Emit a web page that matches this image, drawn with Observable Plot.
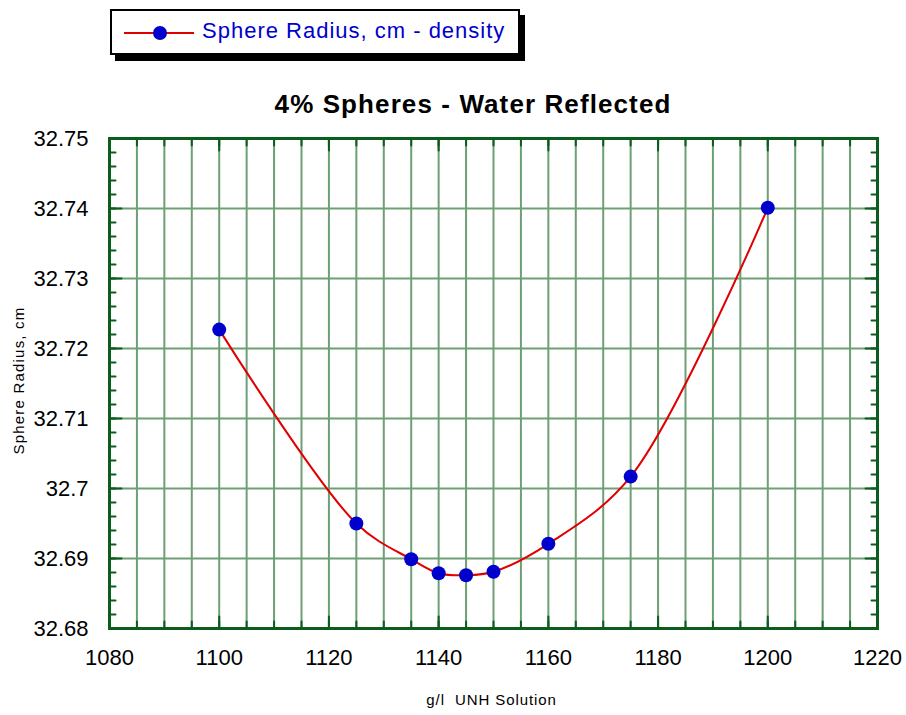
<!DOCTYPE html>
<html>
<head>
<meta charset="utf-8">
<script src="https://cdn.jsdelivr.net/npm/d3@7"></script>
<script src="https://cdn.jsdelivr.net/npm/@observablehq/plot@0.6"></script>
<style>
  body { margin: 0; background: #fff; font-family: "Liberation Sans", Arial, sans-serif; }
  #wrap { position: relative; width: 906px; height: 715px; }
  #legend { position: absolute; left: 110px; top: 9px; width: 406px; height: 42px;
            border: 2px solid #000; background: #fff; box-shadow: 5px 6px 0 #000; z-index: 2; }
  #legend svg { position: absolute; left: 12px; top: 12px; }
  #legend span { position: absolute; left: 90px; top: 7px; font-size: 22px; letter-spacing: 1px; color: #0000cc; white-space: nowrap; }
  #title { position: absolute; left: 73px; width: 800px; top: 91px; line-height: 26px; text-align: center;
           font-size: 26px; letter-spacing: 1.1px; font-weight: bold; color: #000; z-index: 2; }
  #chart { position: absolute; left: 0; top: 0; }
</style>
</head>
<body>
<div id="wrap">
  <div id="legend">
    <svg width="74" height="20"><line x1="0" y1="10" x2="70" y2="10" stroke="#e00000" stroke-width="2"/><circle cx="36" cy="10" r="7" fill="#0000cc"/></svg>
    <span>Sphere Radius, cm - density</span>
  </div>
  <div id="title">4% Spheres - Water Reflected</div>
  <div id="chart"></div>
</div>
<script>
// Data
const densities = [1100, 1125, 1135, 1140, 1145, 1150, 1160, 1175, 1200];
const radii = [32.7227, 32.6950, 32.6899, 32.6879, 32.6876, 32.6881, 32.6921, 32.7017, 32.7401];
const xTickLabels = [1080, 1100, 1120, 1140, 1160, 1180, 1200, 1220];
const yTickLabels = [32.68, 32.69, 32.70, 32.71, 32.72, 32.73, 32.74, 32.75];
const xGrid = d3.range(1080, 1221, 5);
const yMinor = d3.range(0, 36).map(i => 32.68 + i * 0.002);
const xLabel = "g/l  UNH Solution";
const yLabel = "Sphere Radius, cm";

const data = densities.map((x, i) => ({x, y: radii[i]}));
const tickShape = {draw(ctx, l) { ctx.moveTo(0, 0); ctx.lineTo(0, -l); }};
const frameGreen = "#0b5d1e";
const gridGreen = "#6e9f75";

function ticks(values, channel, anchor, rotate, length) {
  return Plot.vector(values, {
    [channel]: d => d, frameAnchor: anchor, rotate, length, anchor: "start",
    shape: tickShape, stroke: frameGreen, strokeWidth: 2
  });
}

const chart = Plot.plot({
  width: 906, height: 715,
  marginLeft: 109, marginRight: 29, marginTop: 138, marginBottom: 87,
  style: {fontFamily: "'Liberation Sans', Arial, sans-serif", background: "white", color: "black"},
  x: {domain: [1080, 1220]},
  y: {domain: [32.68, 32.75]},
  marks: [
    Plot.ruleX(xGrid, {stroke: gridGreen, strokeWidth: 2}),
    Plot.ruleY(yTickLabels, {stroke: gridGreen, strokeWidth: 2}),
    ticks(xGrid, "x", "bottom", 0, 7),
    ticks(xTickLabels, "x", "bottom", 0, 12),
    ticks(xGrid, "x", "top", 180, 7),
    ticks(xTickLabels, "x", "top", 180, 12),
    ticks(yMinor, "y", "left", 90, 6),
    ticks(yTickLabels, "y", "left", 90, 12),
    ticks(yMinor, "y", "right", -90, 6),
    ticks(yTickLabels, "y", "right", -90, 12),
    Plot.frame({stroke: frameGreen, strokeWidth: 3}),
    Plot.axisX(xTickLabels, {tickSize: 0, tickPadding: 21, fontSize: 22, tickFormat: d => String(d), label: null}),
    Plot.axisY(yTickLabels, {tickSize: 0, tickPadding: 21, fontSize: 22, tickFormat: d => String(+d.toFixed(2)), label: null}),
    Plot.line(data, {x: "x", y: "y", curve: "catmull-rom", stroke: "#e00000", strokeWidth: 2}),
    Plot.dot(data, {x: "x", y: "y", r: 7, fill: "#0000cc"}),
    Plot.text([yLabel], {text: d => d, frameAnchor: "left", textAnchor: "middle", dx: -90, dy: -3, rotate: -90, fontSize: 15, fill: "black"}),
    Plot.text([xLabel], {text: d => d, frameAnchor: "bottom", textAnchor: "middle", dy: 76, dx: -2, fontSize: 15, fill: "black"})
  ]
});
document.getElementById("chart").appendChild(chart);
d3.select(chart).selectAll("text").each(function() {
  if (this.textContent === yLabel) d3.select(this).attr("letter-spacing", "1.2px");
  if (this.textContent === xLabel) d3.select(this).attr("letter-spacing", "0.9px");
});
</script>
</body>
</html>
